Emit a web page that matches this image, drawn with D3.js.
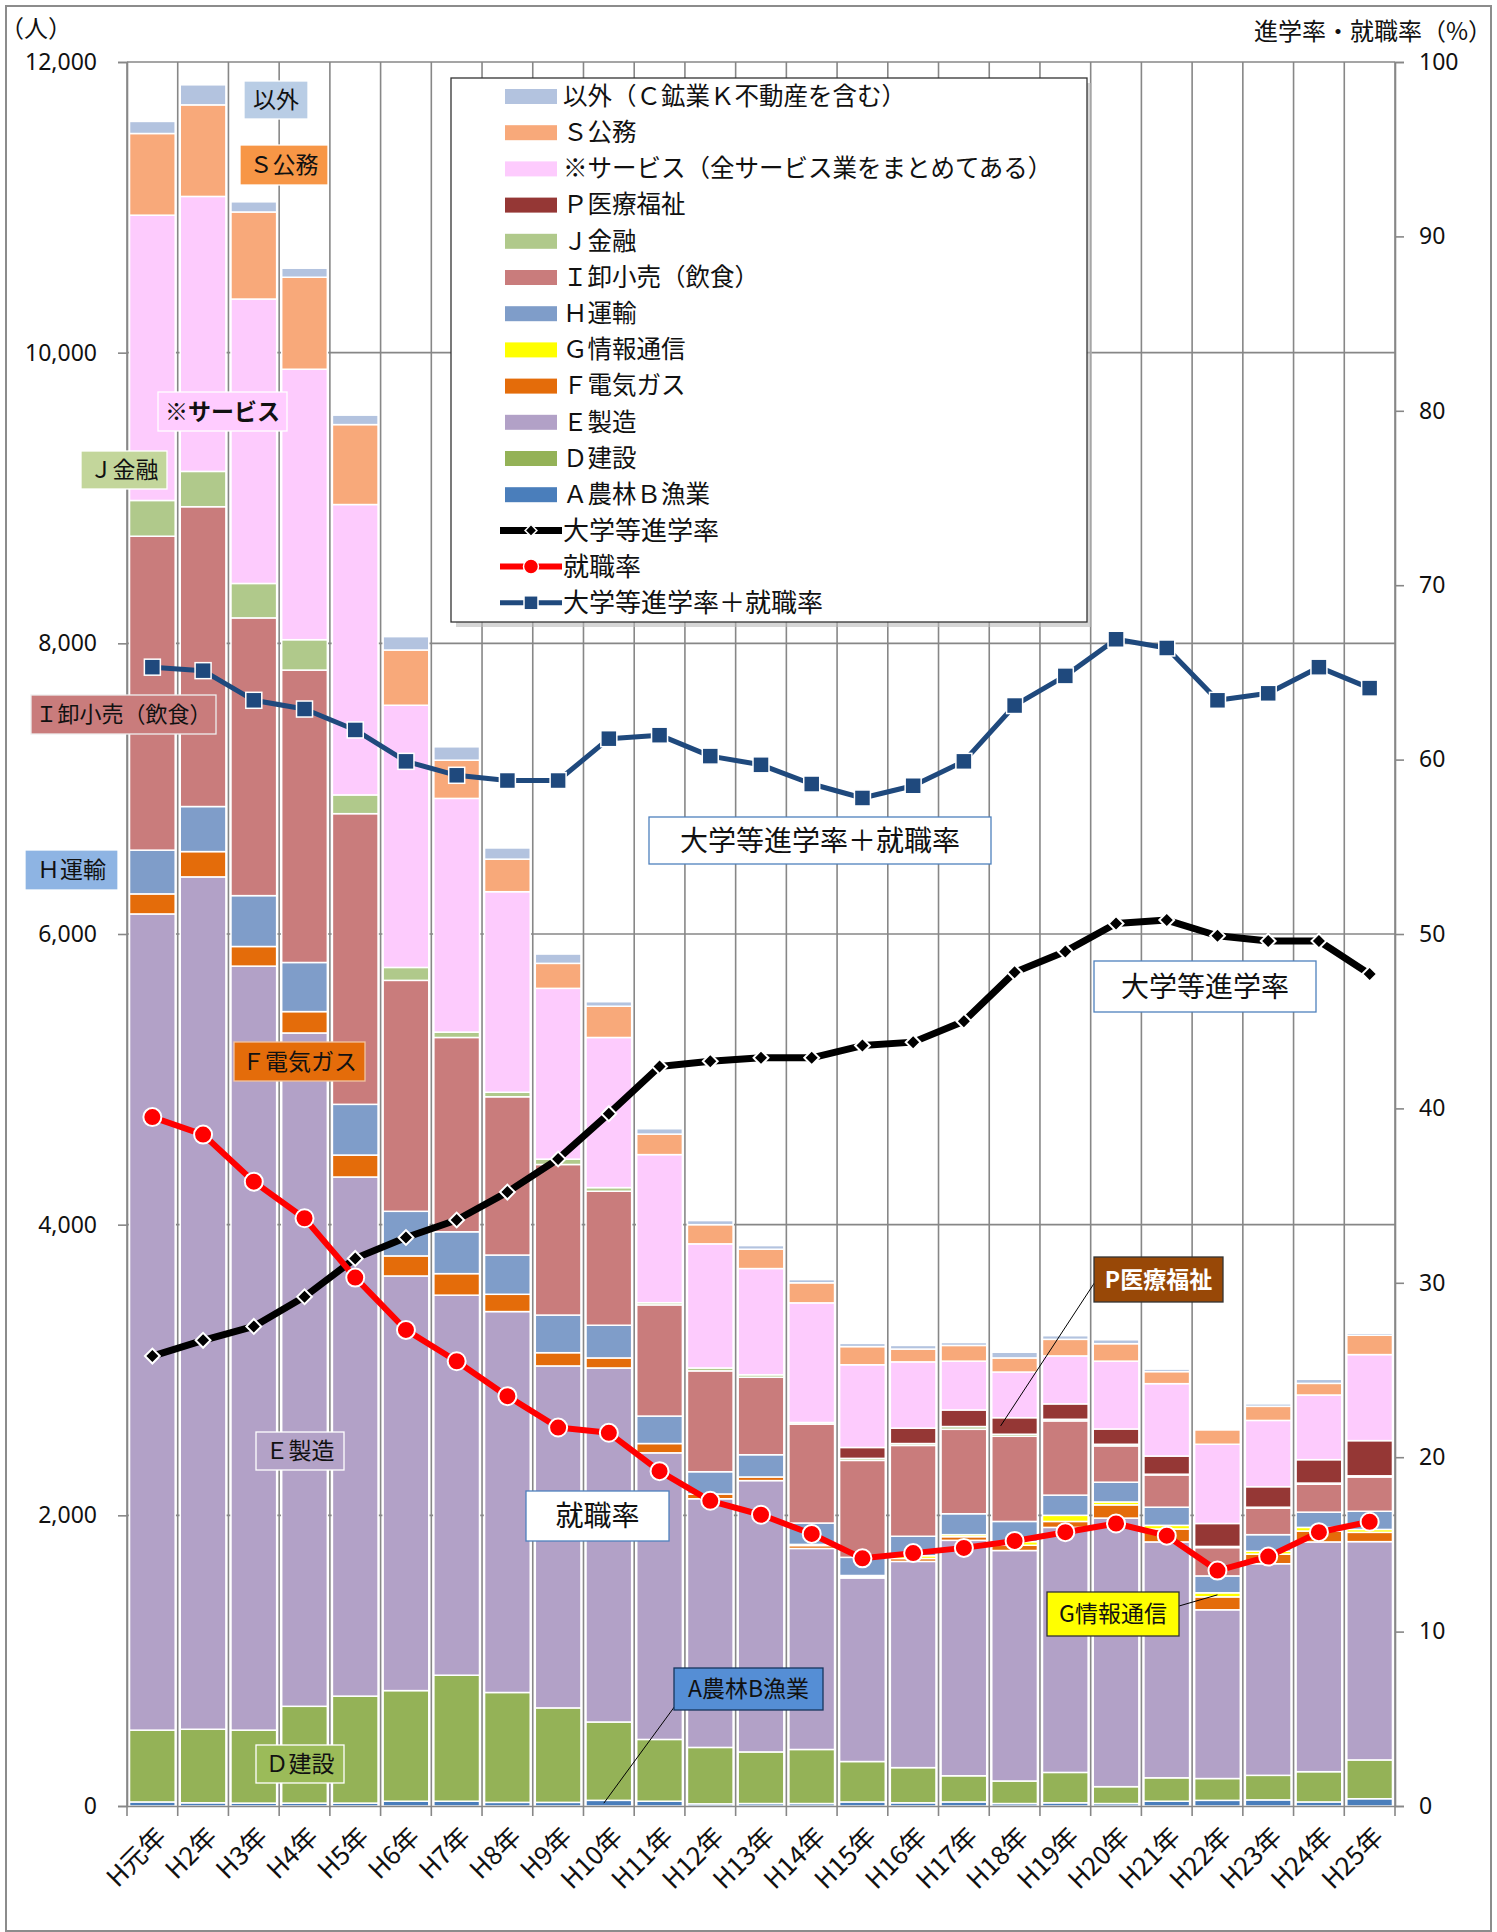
<!DOCTYPE html>
<html>
<head>
<meta charset="utf-8">
<script src="https://cdn.jsdelivr.net/npm/d3@7"></script>
<style>
body { margin: 0; background: #fff; }
text { font-family: "Noto Sans CJK JP", "Noto Sans", sans-serif; fill: #111; }
.num { font-family: "Noto Sans", sans-serif; }
</style>
</head>
<body>
<div id="chart"></div>
<script>
// categories
const years = ["H元年","H2年","H3年","H4年","H5年","H6年","H7年","H8年","H9年","H10年","H11年","H12年","H13年",
               "H14年","H15年","H16年","H17年","H18年","H19年","H20年","H21年","H22年","H23年","H24年","H25年"];

// stacked series (people), bottom to top
const agri   = [28,22,20,20,20,33,33,25,25,39,33,15,17,17,28,22,28,17,22,17,33,39,42,28,50];
const constr = [494,506,502,666,736,761,867,756,650,539,425,388,355,372,278,242,180,155,209,116,161,150,169,208,267];
const manuf  = [5616,5865,5257,4633,3572,2853,2615,2621,2353,2436,1972,1711,1867,1383,1263,1419,1620,1586,1686,1848,1623,1161,1456,1581,1502];
const elec   = [138,174,135,147,151,138,148,119,91,69,64,33,25,20,10,20,25,36,41,91,89,89,66,75,64];
const info   = [0,0,0,0,0,0,0,0,0,0,0,0,0,8,7,19,14,25,42,20,25,28,20,25,20];
const trans  = [301,310,350,338,349,307,288,270,259,225,189,153,153,147,125,134,144,139,139,136,125,116,114,105,125];
const retail = [2160,2063,1911,2012,2000,1589,1337,1089,1036,922,765,694,533,681,667,625,581,586,511,250,222,195,183,192,236];
const fin    = [246,243,237,209,129,89,37,31,37,25,15,20,17,11,14,13,19,14,11,11,5,8,6,8,8];
const med    = [0,0,0,0,0,0,0,0,0,0,0,0,0,0,75,106,114,114,106,105,125,158,141,161,242];
const svc    = [1963,1892,1957,1861,1998,1804,1608,1380,1175,1033,1019,854,731,823,569,456,336,314,330,467,498,545,456,445,592];
const pub    = [562,630,599,633,550,380,263,224,172,215,141,132,133,138,125,88,108,97,114,120,83,100,97,80,133];
const other  = [83,138,70,62,65,92,92,77,64,31,37,28,25,22,22,25,20,39,25,27,17,8,17,28,14];

// rates (%)
const advRate = [25.8,26.7,27.5,29.2,31.4,32.6,33.6,35.2,37.1,39.7,42.4,42.7,42.9,42.9,43.6,43.8,45.0,47.8,49.0,50.6,50.8,49.9,49.6,49.6,47.7];
const empRate = [39.5,38.5,35.8,33.7,30.3,27.3,25.5,23.5,21.7,21.4,19.2,17.5,16.7,15.6,14.2,14.5,14.8,15.2,15.7,16.2,15.5,13.5,14.3,15.7,16.3];
const sumRate = [65.3,65.1,63.4,62.9,61.7,59.9,59.1,58.8,58.8,61.2,61.4,60.2,59.7,58.6,57.8,58.5,59.9,63.1,64.8,66.9,66.4,63.4,63.8,65.3,64.1];

// ticks
const leftTicks = [0,2000,4000,6000,8000,10000,12000];
const rightTicks = [0,10,20,30,40,50,60,70,80,90,100];

const stackKeys = ["agri","constr","manuf","elec","info","trans","retail","fin","med","svc","pub","other"];
const stackLabels = ["Ａ農林Ｂ漁業","Ｄ建設","Ｅ製造","Ｆ電気ガス","Ｇ情報通信","Ｈ運輸","Ｉ卸小売（飲食）","Ｊ金融",
                     "Ｐ医療福祉","※サービス（全サービス業をまとめてある）","Ｓ公務","以外（Ｃ鉱業Ｋ不動産を含む）"];
const stackColors = ["#4A7EBB","#94B257","#B2A1C7","#E46C0A","#FFFF00","#7F9DC9","#C97C7C","#B0C98B",
                     "#953735","#FDCBFD","#F8A97A","#B3C3DF"];
const series = [agri,constr,manuf,elec,info,trans,retail,fin,med,svc,pub,other];

const rows = years.map((yr,i) => {
  const r = {year: yr};
  stackKeys.forEach((k,j) => r[k] = series[j][i]);
  return r;
});

const W = 1497, H = 1932;
const margin = {top: 62, left: 127, right: 102, bottom: 126};
const width = W - margin.left - margin.right,
      height = H - margin.top - margin.bottom;

const svg = d3.select("#chart").append("svg")
    .attr("width", W).attr("height", H);

// chart area border
svg.append("rect").attr("x", 6).attr("y", 6).attr("width", 1485).attr("height", 1925)
    .attr("fill", "#fff").attr("stroke", "#8c8c8c").attr("stroke-width", 2);

const g = svg.append("g").attr("transform", "translate(" + margin.left + "," + margin.top + ")");

const xCat = d3.scaleBand().domain(years).range([0, width]).padding(0);
const xBar = d3.scaleBand().domain(years).range([0, width]).paddingInner(0.1).paddingOuter(0.05);
const y = d3.scaleLinear().domain([0, 12000]).range([height, 0]);
const y2 = d3.scaleLinear().domain([0, 100]).range([height, 0]);
const cx = d => xCat(d) + xCat.bandwidth() / 2;

// gridlines
const gridColor = "#878787";
g.append("g").selectAll("line").data(leftTicks.slice(1)).join("line")
    .attr("x1", 0).attr("x2", width)
    .attr("y1", d => y(d)).attr("y2", d => y(d))
    .attr("stroke", gridColor).attr("stroke-width", 1.6);
const bounds = d3.range(years.length + 1).map(i => i * xCat.step());
g.append("g").selectAll("line").data(bounds).join("line")
    .attr("x1", d => d).attr("x2", d => d)
    .attr("y1", 0).attr("y2", height + 10)
    .attr("stroke", gridColor).attr("stroke-width", 1.6);

// bars
const stacked = d3.stack().keys(stackKeys)(rows);
g.append("g").selectAll("g").data(stacked).join("g")
    .attr("fill", (d,i) => stackColors[i])
  .selectAll("rect").data(d => d.filter(p => p[1] - p[0] > 0)).join("rect")
    .attr("x", d => xBar(d.data.year))
    .attr("width", xBar.bandwidth())
    .attr("y", d => y(d[1]))
    .attr("height", d => y(d[0]) - y(d[1]))
    .attr("stroke", "#fff").attr("stroke-width", 1.5);

// axes
const yAxis = d3.axisLeft(y).tickValues(leftTicks).tickFormat(d3.format(",")).tickSize(9).tickPadding(21);
const gy = g.append("g").call(yAxis);
gy.selectAll("line, path").attr("stroke", gridColor).attr("stroke-width", 1.6);
gy.selectAll("text").attr("class", "num").style("font-size", "23px").attr("fill", "#111");

const y2Axis = d3.axisRight(y2).tickValues(rightTicks).tickSize(9).tickPadding(15);
const gy2 = g.append("g").attr("transform", "translate(" + width + ",0)").call(y2Axis);
gy2.selectAll("line, path").attr("stroke", gridColor).attr("stroke-width", 1.6);
gy2.selectAll("text").attr("class", "num").style("font-size", "23px").attr("fill", "#111");

const gx = g.append("g").attr("transform", "translate(0," + height + ")")
    .call(d3.axisBottom(xCat).tickSize(0));
gx.select("path").attr("stroke", gridColor).attr("stroke-width", 1.6);
gx.selectAll("text")
    .style("font-size", "26px").style("text-anchor", "end")
    .attr("y", 0).attr("dy", "0.35em")
    .attr("transform", "translate(9,26) rotate(-45)");

// lines
function drawLine(vals, color, w) {
  g.append("path").datum(vals)
    .attr("fill", "none").attr("stroke", color).attr("stroke-width", w)
    .attr("stroke-linejoin", "round")
    .attr("d", d3.line().x((d,i) => cx(years[i])).y(d => y2(d)));
}
drawLine(sumRate, "#1F497D", 5);
drawLine(advRate, "#000", 7);
drawLine(empRate, "#FF0000", 6);

g.append("g").selectAll("rect").data(sumRate).join("rect")
    .attr("x", (d,i) => cx(years[i]) - 8).attr("y", d => y2(d) - 8)
    .attr("width", 16).attr("height", 16)
    .attr("fill", "#1F497D").attr("stroke", "#fff").attr("stroke-width", 1.5);
g.append("g").selectAll("path").data(advRate).join("path")
    .attr("d", d3.symbol(d3.symbolSquare, 110))
    .attr("transform", (d,i) => "translate(" + cx(years[i]) + "," + y2(d) + ") rotate(45)")
    .attr("fill", "#000").attr("stroke", "#fff").attr("stroke-width", 2);
g.append("g").selectAll("circle").data(empRate).join("circle")
    .attr("cx", (d,i) => cx(years[i])).attr("cy", d => y2(d)).attr("r", 9)
    .attr("fill", "#FF0000").attr("stroke", "#fff").attr("stroke-width", 2);

// axis titles
svg.append("text").attr("x", 0).attr("y", 37).style("font-size", "24px").text("（人）");
svg.append("text").attr("x", 1492).attr("y", 40).attr("text-anchor", "end")
    .style("font-size", "24px").text("進学率・就職率（%）");

// leader lines (point to bar segments)
function segMid(key, yr) {
  const s = stacked[stackKeys.indexOf(key)][years.indexOf(yr)];
  return [margin.left + cx(yr), margin.top + y((s[0] + s[1]) / 2)];
}
const leaders = [
  {from: [1095, 1282], to: segMid("med", "H18年"), dx: -14},
  {from: [1179, 1606], to: segMid("info", "H22年"), dx: 0},
  {from: [675, 1706], to: segMid("agri", "H10年"), dx: -5}
];
svg.append("g").selectAll("line").data(leaders).join("line")
    .attr("x1", d => d.from[0]).attr("y1", d => d.from[1])
    .attr("x2", d => d.to[0] + d.dx).attr("y2", d => d.to[1])
    .attr("stroke", "#000").attr("stroke-width", 1);

// annotation boxes
const notes = [
  {t: "以外", x: 244, y: 81, w: 64, h: 38, fill: "#B9CDE5", stroke: "#fff", size: 23},
  {t: "Ｓ公務", x: 240, y: 145, w: 88, h: 40, fill: "#F79646", stroke: "#fff", size: 23},
  {t: "※サービス", x: 158, y: 392, w: 129, h: 39, fill: "#FFCCFF", stroke: "#fff", size: 23, bold: true},
  {t: "Ｊ金融", x: 81, y: 451, w: 86, h: 38, fill: "#C3D69B", stroke: "#fff", size: 23},
  {t: "Ｉ卸小売（飲食）", x: 31, y: 695, w: 185, h: 39, fill: "#C97C7C", stroke: "#eee", size: 22},
  {t: "Ｈ運輸", x: 25, y: 850, w: 93, h: 40, fill: "#8EB4E3", stroke: "#fff", size: 23},
  {t: "Ｆ電気ガス", x: 234, y: 1042, w: 131, h: 39, fill: "#E46C0A", stroke: "#f2c4a0", size: 23},
  {t: "Ｅ製造", x: 256, y: 1432, w: 88, h: 38, fill: "#B3A2C7", stroke: "#fff", size: 23},
  {t: "Ｄ建設", x: 256, y: 1745, w: 88, h: 38, fill: "#9BBB59", stroke: "#fff", size: 23},
  {t: "大学等進学率＋就職率", x: 649, y: 817, w: 342, h: 47, fill: "#fff", stroke: "#4F81BD", size: 28},
  {t: "大学等進学率", x: 1094, y: 961, w: 222, h: 51, fill: "#fff", stroke: "#4F81BD", size: 28},
  {t: "就職率", x: 526, y: 1491, w: 143, h: 50, fill: "#fff", stroke: "#4F81BD", size: 28},
  {t: "P医療福祉", x: 1094, y: 1257, w: 129, h: 45, fill: "#984807", stroke: "#333", size: 23, bold: true, color: "#fff"},
  {t: "G情報通信", x: 1047, y: 1592, w: 132, h: 44, fill: "#FFFF00", stroke: "#333", size: 23},
  {t: "A農林B漁業", x: 674, y: 1668, w: 149, h: 42, fill: "#558ED5", stroke: "#17375E", size: 23}
];
const ng = svg.append("g").selectAll("g").data(notes).join("g");
ng.append("rect")
    .attr("x", d => d.x).attr("y", d => d.y).attr("width", d => d.w).attr("height", d => d.h)
    .attr("fill", d => d.fill).attr("stroke", d => d.stroke).attr("stroke-width", 1.3);
ng.append("text")
    .attr("x", d => d.x + d.w / 2).attr("y", d => d.y + d.h / 2).attr("dy", "0.36em")
    .attr("text-anchor", "middle")
    .style("font-size", d => d.size + "px")
    .style("font-weight", d => d.bold ? "bold" : "normal")
    .style("fill", d => d.color || "#111")
    .text(d => d.t);

// legend
const lg = svg.append("g");
lg.append("rect").attr("x", 456).attr("y", 83).attr("width", 636).attr("height", 544)
    .attr("fill", "#bbb").attr("opacity", 0.6);
lg.append("rect").attr("x", 451).attr("y", 78).attr("width", 636).attr("height", 544)
    .attr("fill", "#fff").attr("stroke", "#333").attr("stroke-width", 1.3);
const legendBars = d3.range(stackKeys.length).reverse();
const rowY = i => 96 + i * 36.2;
legendBars.forEach((k, i) => {
  lg.append("rect").attr("x", 505).attr("y", rowY(i) - 7).attr("width", 52).attr("height", 15)
      .attr("fill", stackColors[k]);
  lg.append("text").attr("x", 563).attr("y", rowY(i)).attr("dy", "0.36em")
      .style("font-size", "24.5px").text(stackLabels[k]);
});
const lineLegend = [
  {t: "大学等進学率", c: "#000", w: 7, m: "diamond"},
  {t: "就職率", c: "#FF0000", w: 6, m: "circle"},
  {t: "大学等進学率＋就職率", c: "#1F497D", w: 5, m: "square"}
];
lineLegend.forEach((d, j) => {
  const yy = rowY(12 + j);
  lg.append("line").attr("x1", 500).attr("x2", 562).attr("y1", yy).attr("y2", yy)
      .attr("stroke", d.c).attr("stroke-width", d.w);
  if (d.m === "diamond") {
    lg.append("path").attr("d", d3.symbol(d3.symbolSquare, 70))
        .attr("transform", "translate(531," + yy + ") rotate(45)")
        .attr("fill", "#000").attr("stroke", "#fff").attr("stroke-width", 1.5);
  } else if (d.m === "circle") {
    lg.append("circle").attr("cx", 531).attr("cy", yy).attr("r", 7.5)
        .attr("fill", d.c).attr("stroke", "#fff").attr("stroke-width", 1.5);
  } else {
    lg.append("rect").attr("x", 524).attr("y", yy - 7).attr("width", 14).attr("height", 14)
        .attr("fill", d.c).attr("stroke", "#fff").attr("stroke-width", 1.5);
  }
  lg.append("text").attr("x", 563).attr("y", yy).attr("dy", "0.36em")
      .style("font-size", "26px").text(d.t);
});
</script>
</body>
</html>
